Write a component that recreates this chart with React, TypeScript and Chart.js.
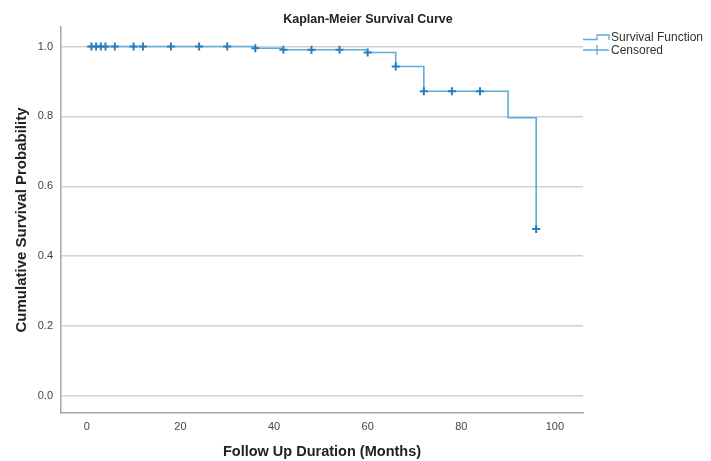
import React, { useEffect, useRef } from "react";
import { Chart, registerables } from "chart.js";

Chart.register(...registerables);

const chartTitle = "Kaplan-Meier Survival Curve";
const xAxisTitle = "Follow Up Duration (Months)";
const yAxisTitle = "Cumulative Survival Probability";

// Step function (event times and survival after each event)
const survTimes = [0, 36, 42, 60, 66, 72, 90, 96];
const survProb = [1.0, 0.995, 0.991, 0.983, 0.943, 0.872, 0.796, 0.478];

// Censored observations
const censorTimes = [1, 2, 3, 4, 6, 10, 12, 18, 24, 30, 36, 42, 48, 54, 60, 66, 72, 78, 84, 96];
const censorProb = [1, 1, 1, 1, 1, 1, 1, 1, 1, 1, 0.995, 0.991, 0.991, 0.991, 0.983, 0.943, 0.872, 0.872, 0.872, 0.478];

const xTicks = [0, 20, 40, 60, 80, 100];
const yTicks = [0, 0.2, 0.4, 0.6, 0.8, 1.0];

const seriesNames = ["Survival Function", "Censored"];

const FONT = "'Liberation Sans', Arial, sans-serif";
const LINE_COLOR = "#5fabdb";
const MARK_COLOR = "#2b7cbd";

const titleLegendPlugin = {
  id: "titleLegend",
  afterDraw(chart: any) {
    const ctx = chart.ctx;
    ctx.save();
    // Title
    ctx.fillStyle = "#222";
    ctx.font = `bold 12.5px ${FONT}`;
    ctx.textAlign = "center";
    ctx.textBaseline = "alphabetic";
    ctx.fillText(chartTitle, 368, 22.5);

    // Legend
    ctx.strokeStyle = LINE_COLOR;
    ctx.lineWidth = 1.3;
    ctx.beginPath();
    ctx.moveTo(583, 39.5);
    ctx.lineTo(597, 39.5);
    ctx.lineTo(597, 35);
    ctx.lineTo(609, 35);
    ctx.lineTo(609, 40);
    ctx.stroke();

    ctx.beginPath();
    ctx.moveTo(583, 50);
    ctx.lineTo(609, 50);
    ctx.moveTo(597, 45);
    ctx.lineTo(597, 55);
    ctx.stroke();

    ctx.fillStyle = "#333";
    ctx.font = `12px ${FONT}`;
    ctx.textAlign = "left";
    ctx.textBaseline = "middle";
    ctx.fillText(seriesNames[0], 611, 37.5);
    ctx.fillText(seriesNames[1], 611, 50.5);
    ctx.restore();
  },
};

export default function App() {
  const ref = useRef<HTMLCanvasElement | null>(null);

  useEffect(() => {
    if (!ref.current) return;
    const chart = new Chart(ref.current, {
      type: "scatter",
      data: {
        datasets: [
          {
            type: "scatter",
            label: seriesNames[1],
            data: censorTimes.map((t, i) => ({ x: t, y: censorProb[i] })),
            pointStyle: "cross",
            pointRadius: 4,
            pointBorderWidth: 2,
            borderColor: MARK_COLOR,
            backgroundColor: MARK_COLOR,
            order: 0,
          } as any,
          {
            type: "line",
            label: seriesNames[0],
            data: survTimes.map((t, i) => ({ x: t, y: survProb[i] })),
            stepped: true,
            showLine: true,
            borderColor: LINE_COLOR,
            borderWidth: 1.6,
            pointRadius: 0,
            fill: false,
            order: 1,
          } as any,
        ],
      },
      options: {
        responsive: false,
        animation: false,
        layout: { padding: { left: 0, top: 27, right: 128, bottom: 0 } },
        plugins: {
          legend: { display: false },
          title: { display: false },
          tooltip: { enabled: false },
        },
        scales: {
          x: {
            type: "linear",
            min: -5.5,
            max: 106,
            afterBuildTicks: (scale: any) => {
              scale.ticks = xTicks.map((v) => ({ value: v }));
            },
            afterFit: (scale: any) => {
              scale.height = 48;
            },
            grid: { display: false, drawTicks: false },
            border: { display: true, color: "#a8a8a8", width: 1.5 },
            ticks: {
              padding: 7,
              color: "#444",
              font: { family: FONT, size: 11 },
              maxRotation: 0,
              callback: (v: any) => String(v),
            },
            title: {
              display: true,
              text: xAxisTitle,
              color: "#222",
              font: { family: FONT, size: 14.5, weight: "bold" },
              padding: { top: 0, bottom: 0 },
            },
          },
          y: {
            type: "linear",
            min: -0.049,
            max: 1.056,
            afterBuildTicks: (scale: any) => {
              scale.ticks = yTicks.map((v) => ({ value: v }));
            },
            afterFit: (scale: any) => {
              scale.width = 61;
            },
            grid: { display: true, drawTicks: false, color: "#d2d2d2", lineWidth: 1.5 },
            border: { display: true, color: "#a8a8a8", width: 1.5 },
            ticks: {
              padding: 8,
              color: "#444",
              font: { family: FONT, size: 11 },
              callback: (v: any) => Number(v).toFixed(1),
            },
            title: {
              display: true,
              text: yAxisTitle,
              color: "#222",
              font: { family: FONT, size: 15, weight: "bold" },
              padding: { top: 13, bottom: 0 },
            },
          },
        },
      },
      plugins: [titleLegendPlugin],
    });
    return () => chart.destroy();
  }, []);

  return (
    <div style={{ position: "fixed", left: 0, top: 0, width: 711, height: 461, background: "#fff" }}>
      <canvas ref={ref} width={711} height={461} style={{ width: 711, height: 461 }} />
    </div>
  );
}
